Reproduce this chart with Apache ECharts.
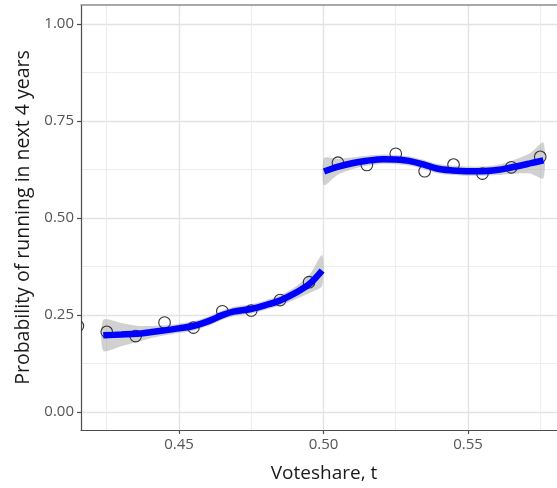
<!DOCTYPE html>
<html>
<head>
<meta charset="utf-8">
<script src="https://cdn.jsdelivr.net/npm/echarts@6/dist/echarts.min.js"></script>
<style>
  html, body { margin: 0; padding: 0; background: #fff; }
  #chart { width: 557px; height: 488px; }
</style>
</head>
<body>
<div id="chart"></div>
<script>
// Binned means of the outcome by vote share
const binX = [0.415, 0.425, 0.435, 0.445, 0.455, 0.465, 0.475, 0.485, 0.495,
              0.505, 0.515, 0.525, 0.535, 0.545, 0.555, 0.565, 0.575];
const binY = [0.222, 0.207, 0.196, 0.231, 0.218, 0.260, 0.262, 0.289, 0.335,
              0.643, 0.637, 0.666, 0.621, 0.638, 0.615, 0.631, 0.658];

// Local fit below the threshold (losers)
const leftFitX = [0.4238, 0.4300, 0.4354, 0.4400, 0.4452, 0.4500, 0.4549, 0.4607,
                  0.4650, 0.4688, 0.4749, 0.4800, 0.4850, 0.4900, 0.4951, 0.4995];
const leftFitY = [0.198, 0.200, 0.202, 0.206, 0.211, 0.216, 0.222, 0.236,
                  0.250, 0.259, 0.266, 0.276, 0.288, 0.306, 0.330, 0.365];
const leftSE   = [0.040, 0.030, 0.021, 0.016, 0.013, 0.012, 0.012, 0.012,
                  0.012, 0.012, 0.012, 0.012, 0.013, 0.016, 0.023, 0.040];

// Local fit above the threshold (winners)
const rightFitX = [0.5002, 0.5048, 0.5103, 0.5150, 0.5207, 0.5250, 0.5299, 0.5348,
                   0.5392, 0.5447, 0.5496, 0.5548, 0.5600, 0.5645, 0.5714, 0.5761];
const rightFitY = [0.620, 0.632, 0.642, 0.648, 0.652, 0.651, 0.647, 0.638,
                   0.628, 0.623, 0.621, 0.621, 0.624, 0.630, 0.641, 0.649];
const rightSE   = [0.035, 0.021, 0.015, 0.013, 0.012, 0.012, 0.012, 0.012,
                   0.012, 0.012, 0.012, 0.012, 0.013, 0.016, 0.026, 0.046];

// Axis ticks
const xMajor = [0.45, 0.50, 0.55];
const xMinor = [0.425, 0.475, 0.525, 0.575];
const yMajor = [0.00, 0.25, 0.50, 0.75, 1.00];
const yMinor = [0.125, 0.375, 0.625, 0.875];

const xRange = [0.41609, 0.58080];
const yRange = [-0.04595, 1.0493];

const FONT = '"Open Sans", "Noto Sans", sans-serif';
const pairs = (xs, ys) => xs.map((x, i) => [x, ys[i]]);

// Confidence band: one closed shape, upper edge then lower edge reversed
function bandSeries(name, xs, ys, se) {
  return {
    name: name, type: 'custom', silent: true, z: 2,
    data: [[xs[0], ys[0]]],
    renderItem: function (params, api) {
      const upper = xs.map((x, i) => api.coord([x, ys[i] + se[i]]));
      const lower = xs.map((x, i) => api.coord([x, ys[i] - se[i]])).reverse();
      return {
        type: 'polygon',
        shape: { points: upper.concat(lower), smooth: 0.25 },
        style: { fill: 'rgba(153,153,153,0.45)', stroke: null }
      };
    }
  };
}

function fitSeries(name, xs, ys) {
  return {
    name: name, type: 'line', data: pairs(xs, ys),
    smooth: 0.35, showSymbol: false, silent: true, z: 4,
    lineStyle: { color: '#0000ff', width: 6.5, cap: 'butt' }
  };
}

// Open circles, clipped to the panel so partly visible bins are cut at the edge
const binSeries = {
  name: 'bins', type: 'custom', silent: true, z: 3, clip: true,
  data: pairs(binX, binY),
  renderItem: function (params, api) {
    const p = api.coord([api.value(0), api.value(1)]);
    return {
      type: 'circle',
      shape: { cx: p[0], cy: p[1], r: 5.8 },
      style: { fill: null, stroke: '#333333', lineWidth: 1.1 }
    };
  }
};

const chart = echarts.init(document.getElementById('chart'), null, { renderer: 'canvas' });

chart.setOption({
  animation: false,
  backgroundColor: '#ffffff',
  grid: { left: 81, top: 5, right: 0, bottom: 54, containLabel: false },
  xAxis: [
    {
      type: 'value', min: xRange[0], max: xRange[1], position: 'bottom',
      name: 'Voteshare, t', nameLocation: 'middle', nameGap: 34,
      nameTextStyle: { fontFamily: FONT, fontSize: 19, color: '#1a1a1a', padding: [0, 0, 0, 10] },
      axisLine: { show: true, onZero: false, lineStyle: { color: '#4d4d4d', width: 1.2 } },
      axisTick: { show: true, length: 4, customValues: xMajor, lineStyle: { color: '#4d4d4d', width: 1.2 } },
      axisLabel: { customValues: xMajor, margin: 7, fontFamily: FONT, fontSize: 15, color: '#555555',
                   formatter: v => v.toFixed(2) },
      splitLine: { show: true, lineStyle: { color: '#e3e3e3', width: 1.4 } },
      minorSplitLine: { show: false }
    },
    {
      type: 'value', min: xRange[0], max: xRange[1], position: 'top',
      axisLine: { show: true, onZero: false, lineStyle: { color: '#8c8c8c', width: 1.5 } },
      axisTick: { show: false, customValues: xMinor },
      axisLabel: { show: false, customValues: xMinor },
      splitLine: { show: true, lineStyle: { color: '#ededed', width: 1 } }
    }
  ],
  yAxis: [
    {
      type: 'value', min: yRange[0], max: yRange[1], position: 'left',
      name: 'Probability of running in next 4 years', nameLocation: 'middle', nameGap: 48,
      nameRotate: 90,
      nameTextStyle: { fontFamily: FONT, fontSize: 19.5, color: '#1a1a1a' },
      axisLine: { show: true, onZero: false, lineStyle: { color: '#4d4d4d', width: 1.2 } },
      axisTick: { show: true, length: 4, customValues: yMajor, lineStyle: { color: '#4d4d4d', width: 1.2 } },
      axisLabel: { customValues: yMajor, margin: 7, fontFamily: FONT, fontSize: 15, color: '#555555',
                   formatter: v => v.toFixed(2) },
      splitLine: { show: true, lineStyle: { color: '#e3e3e3', width: 1.4 } }
    },
    {
      type: 'value', min: yRange[0], max: yRange[1], position: 'right',
      axisLine: { show: false },
      axisTick: { show: false, customValues: yMinor },
      axisLabel: { show: false, customValues: yMinor },
      splitLine: { show: true, lineStyle: { color: '#ededed', width: 1 } }
    }
  ],
  series: [
    bandSeries('left-band', leftFitX, leftFitY, leftSE),
    bandSeries('right-band', rightFitX, rightFitY, rightSE),
    binSeries,
    fitSeries('left-fit', leftFitX, leftFitY),
    fitSeries('right-fit', rightFitX, rightFitY)
  ]
});
</script>
</body>
</html>
